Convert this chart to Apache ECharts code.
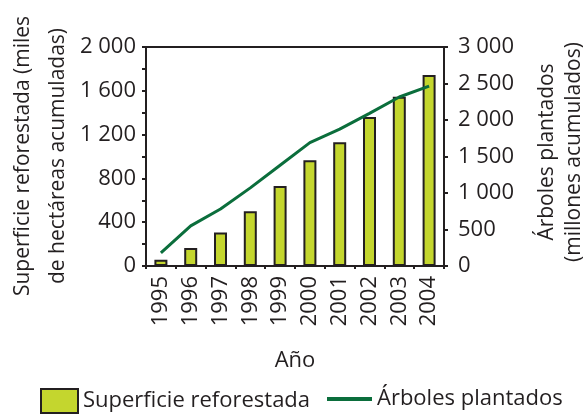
<!DOCTYPE html>
<html>
<head>
<meta charset="utf-8">
<script src="https://cdn.jsdelivr.net/npm/echarts@6/dist/echarts.min.js"></script>
<style>
  html, body { margin: 0; padding: 0; background: #ffffff; }
  #chart { width: 584px; height: 416px; }
</style>
</head>
<body>
<div id="chart"></div>
<script>
// Reforestation in Mexico, 1995-2004 (cumulative figures)
const years = ['1995', '1996', '1997', '1998', '1999', '2000', '2001', '2002', '2003', '2004'];
// Surface reforested, thousands of hectares (left axis)
const superficie = [58, 165, 305, 500, 730, 965, 1130, 1360, 1545, 1745];
// Trees planted, millions (right axis)
const arboles = [180, 550, 780, 1070, 1380, 1690, 1875, 2090, 2315, 2465];
// Tick labels with a space as thousands separator
const leftTicks = { 0: '0', 400: '400', 800: '800', 1200: '1 200', 1600: '1 600', 2000: '2 000' };
const rightTicks = { 0: '0', 500: '500', 1000: '1 000', 1500: '1 500', 2000: '2 000', 2500: '2 500', 3000: '3 000' };

const INK = '#231f20';
const BAR = '#c4d62e';
const LINE = '#0b6e3c';
const FONT = '"Open Sans"';
const FS = 22;
const TITLE_FS = 21;

const chart = echarts.init(document.getElementById('chart'), null, { renderer: 'canvas' });

chart.setOption({
  animation: false,
  backgroundColor: '#ffffff',
  textStyle: { fontFamily: FONT, color: INK },
  grid: {
    left: 146, right: 140, top: 47, bottom: 150,
    show: true, borderColor: INK, borderWidth: 2, backgroundColor: 'transparent'
  },
  legend: [
    {
      left: 40, top: 388, padding: 0, itemWidth: 37, itemHeight: 24, itemGap: 6,
      textStyle: { fontFamily: FONT, fontSize: FS, color: INK },
      data: [{ name: 'Superficie reforestada', icon: 'rect' }]
    },
    {
      left: 327, top: 388, padding: 0, itemWidth: 45, itemHeight: 24, itemGap: 6,
      textStyle: { fontFamily: FONT, fontSize: FS, color: INK },
      data: [{ name: 'Árboles plantados', icon: 'path://M0,10 L45,10 L45,14 L0,14 Z', itemStyle: { color: LINE, borderWidth: 0 } }]
    }
  ],
  xAxis: {
    type: 'category',
    data: years,
    boundaryGap: true,
    name: 'Año',
    nameLocation: 'middle',
    nameGap: 84,
    nameTextStyle: { fontFamily: FONT, fontSize: FS, color: INK },
    axisLine: { lineStyle: { color: INK, width: 2 } },
    axisTick: { show: true, alignWithLabel: false, length: 3, lineStyle: { color: INK, width: 2 } },
    axisLabel: { rotate: 90, margin: 10, fontFamily: FONT, fontSize: FS, color: INK },
    splitLine: { show: false }
  },
  yAxis: [
    {
      type: 'value',
      min: 0, max: 2000, interval: 400,
      position: 'left',
      axisLine: { show: true, lineStyle: { color: INK, width: 2 } },
      axisTick: { show: true, length: 4, lineStyle: { color: INK, width: 2 } },
      minorTick: { show: true, splitNumber: 2, length: 4, lineStyle: { color: INK, width: 2 } },
      axisLabel: { margin: 10, fontFamily: FONT, fontSize: FS, color: INK, formatter: v => leftTicks[v] },
      splitLine: { show: false }
    },
    {
      type: 'value',
      min: 0, max: 3000, interval: 500,
      position: 'right',
      axisLine: { show: true, lineStyle: { color: INK, width: 2 } },
      axisTick: { show: true, length: 4, lineStyle: { color: INK, width: 2 } },
      axisLabel: { margin: 14, fontFamily: FONT, fontSize: FS, color: INK, formatter: v => rightTicks[v] },
      splitLine: { show: false }
    }
  ],
  series: [
    {
      name: 'Superficie reforestada',
      type: 'bar',
      yAxisIndex: 0,
      data: superficie,
      barWidth: 13,
      itemStyle: { color: BAR, borderColor: INK, borderWidth: 2 }
    },
    {
      name: 'Árboles plantados',
      type: 'line',
      yAxisIndex: 1,
      data: arboles,
      symbol: 'none',
      lineStyle: { color: LINE, width: 3 },
      itemStyle: { color: LINE },
      z: 3
    }
  ],
  graphic: [
    {
      type: 'text', x: 41, y: 156, rotation: Math.PI / 2,
      style: {
        text: 'Superficie reforestada (miles\nde hectáreas acumuladas)',
        font: TITLE_FS + 'px ' + FONT, fill: INK,
        align: 'center', verticalAlign: 'middle', lineHeight: 35
      }
    },
    {
      type: 'text', x: 561, y: 152, rotation: Math.PI / 2,
      style: {
        text: 'Árboles plantados\n(millones acumulados)',
        font: TITLE_FS + 'px ' + FONT, fill: INK,
        align: 'center', verticalAlign: 'middle', lineHeight: 27
      }
    }
  ]
});
</script>
</body>
</html>
